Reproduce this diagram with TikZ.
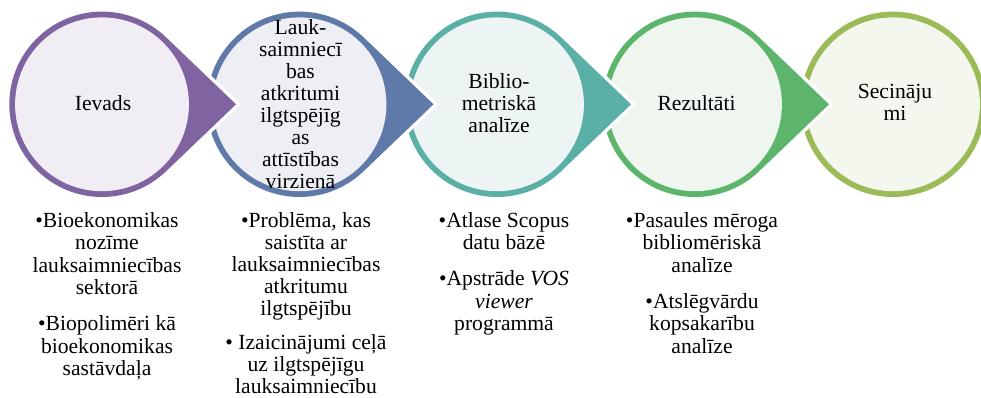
\documentclass[tikz,border=0pt]{standalone}
\usepackage{fontspec}
\setmainfont{Liberation Serif}
\usetikzlibrary{calc}

% ring and inner fill colours of the five stages
\definecolor{ringA}{HTML}{8064A2}
\definecolor{fillA}{HTML}{F0EEF4}
\definecolor{ringB}{HTML}{5F7AA8}
\definecolor{fillB}{HTML}{EEEFF5}
\definecolor{ringC}{HTML}{5BB0A6}
\definecolor{fillC}{HTML}{EDF5F4}
\definecolor{ringD}{HTML}{5CB56A}
\definecolor{fillD}{HTML}{EFF6F0}
\definecolor{ringE}{HTML}{9BBB59}
\definecolor{fillE}{HTML}{F4F7EE}

\tikzset{
  stagetext/.style={font=\fontsize{21.6}{22}\selectfont, align=center,
    inner sep=0pt, text=black},
  bullettext/.style={font=\fontsize{21.6}{22.5}\selectfont, align=center,
    inner sep=0pt, text=black, anchor=north},
}

% circle with a pointed tail to the right: #1 centre, #2 ring, #3 fill
\newcommand\stagedrop[3]{%
  \draw[white, line width=7pt, line join=miter]
    ($(#1)+(134pt,0)$) -- ($(#1)+(46.2:92.7pt)$)
    arc[start angle=46.2, end angle=313.8, radius=92.7pt] -- cycle;
  \fill[#2]
    ($(#1)+(134pt,0)$) -- ($(#1)+(46.2:92.7pt)$)
    arc[start angle=46.2, end angle=313.8, radius=92.7pt] -- cycle;
  \fill[#3] (#1) circle[radius=86.9pt];
}

\begin{document}
\begin{tikzpicture}[x=1pt, y=-1pt]
  \useasboundingbox (0,0) rectangle (981,397);
  \begin{scope}
    \clip (0,0) rectangle (981,397);

    \coordinate (c1) at (102,104.3);
    \coordinate (c2) at (299.5,104.3);
    \coordinate (c3) at (497,104.3);
    \coordinate (c4) at (695,104.3);
    \coordinate (c5) at (893,104.3);

    % last stage: plain ring
    \fill[ringE] (c5) circle[radius=92.7pt];
    \fill[fillE] (c5) circle[radius=86.9pt];
    % remaining stages, right to left so each tail overlaps its neighbour
    \stagedrop{c4}{ringD}{fillD}
    \stagedrop{c3}{ringC}{fillC}
    \stagedrop{c2}{ringB}{fillB}
    \stagedrop{c1}{ringA}{fillA}
  \end{scope}

  % stage titles
  \node[stagetext, anchor=base] (t1) at (103,110) {Ievads};
  \node[stagetext, anchor=north] (t2) at (300.5,19)
    {Lauk-\\saimniecī\\bas\\atkritumi\\ilgtspējīg\\as\\attīstības\\virzienā};
  \node[stagetext, anchor=north] (t3) at (499,73) {Biblio-\\metriskā\\analīze};
  \node[stagetext, anchor=base] (t4) at (696.5,110) {Rezultāti};
  \node[stagetext, anchor=north] (t5) at (895,84) {Secināju\\mi};

  % bullet lists below the stages
  \node[bullettext] (b1) at (107,212)
    {•Bioekonomikas\\nozīme\\lauksaimniecības\\sektorā\\[13.5pt]%
     •Biopolimēri kā\\bioekonomikas\\sastāvdaļa};
  \node[bullettext, font=\fontsize{21.6}{22}\selectfont] (b2) at (306,212)
    {•Problēma, kas\\saistīta ar\\lauksaimniecības\\atkritumu\\ilgtspējību\\[12.5pt]%
     • Izaicinājumi ceļā\\uz ilgtspējīgu\\lauksaimniecību};
  \node[bullettext] (b3) at (504,212)
    {•Atlase Scopus\\datu bāzē\\[13.5pt]%
     •Apstrāde \textit{VOS}\\\textit{viewer}\\programmā};
  \node[bullettext] (b4) at (702,212)
    {•Pasaules mēroga\\bibliomēriskā\\analīze\\[13.5pt]%
     •Atslēgvārdu\\kopsakarību\\analīze};
\end{tikzpicture}
\end{document}
